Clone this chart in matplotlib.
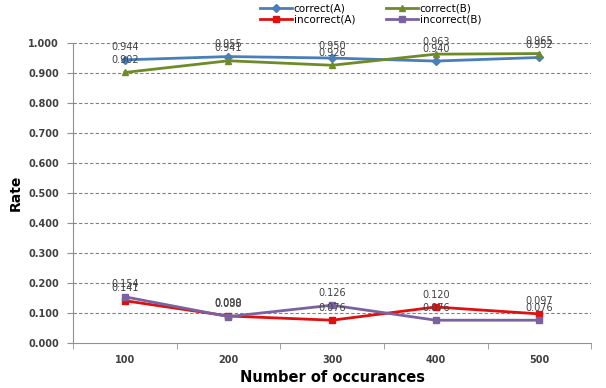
import matplotlib.pyplot as plt
import numpy as np

occurances = ['100', '200', '300', '400', '500']
correct_a = [0.944, 0.955, 0.950, 0.940, 0.952]
correct_b = [0.902, 0.941, 0.926, 0.963, 0.965]
incorrect_a = [0.141, 0.090, 0.076, 0.120, 0.097]
incorrect_b = [0.154, 0.088, 0.126, 0.076, 0.076]

series = [
    ('correct(A)', correct_a, '#4A7EBB', 'D', 4),
    ('incorrect(A)', incorrect_a, '#E01010', 's', 5),
    ('correct(B)', correct_b, '#6E8B28', '^', 5),
    ('incorrect(B)', incorrect_b, '#7A62A0', 's', 5),
]

fig = plt.figure(figsize=(6.06, 3.88), dpi=100)
ax = fig.add_axes([0.1205, 0.116, 0.855, 0.773])
x = np.arange(len(occurances))

handles = []
for name, vals, col, mk, ms in series:
    h, = ax.plot(x, vals, color=col, lw=2, marker=mk, markersize=ms,
                 label=name, zorder=3)
    handles.append(h)

# data labels drawn after all lines (Excel style, above the point)
for name, vals, col, mk, ms in series:
    for xi, v in zip(x, vals):
        ax.annotate('%.3f' % v, (xi, v), xytext=(0, 9), textcoords='offset points',
                    ha='center', va='center', fontsize=7, color='#404040', zorder=4)

ax.set_xlim(-0.5, 4.5)
ax.set_ylim(0, 1.0)
ax.set_yticks(np.arange(0, 1.01, 0.1))
ax.set_yticklabels(['%.3f' % t for t in np.arange(0, 1.01, 0.1)],
                   fontsize=7, fontweight='bold', color='#404040')
ax.set_xticks(x)
ax.set_xticklabels(occurances, fontsize=7, fontweight='bold', color='#404040')
ax.tick_params(axis='x', which='major', length=0, pad=9)
ax.set_xticks(np.arange(-0.5, 5.0, 1.0), minor=True)
ax.tick_params(axis='x', which='minor', length=4, color='#909090')
ax.tick_params(axis='y', length=4, color='#909090', pad=6)

for yv in np.arange(0.1, 1.01, 0.1):
    ax.axhline(yv, color='#808080', lw=0.8, ls=(0, (3, 2)), zorder=1)

for s in ['top', 'right']:
    ax.spines[s].set_visible(False)
for s in ['left', 'bottom']:
    ax.spines[s].set_color('#909090')

ax.set_ylabel('Rate', fontsize=10, fontweight='bold', labelpad=4)
ax.set_xlabel('Number of occurances', fontsize=10.5, fontweight='bold', labelpad=3)

fig.legend(handles=handles, loc='upper center', bbox_to_anchor=(0.612, 1.015), ncol=2,
           frameon=False, fontsize=7.5, handlelength=3, columnspacing=3,
           labelspacing=0.1, handletextpad=0.2)

fig.savefig('out.png', dpi=100)
